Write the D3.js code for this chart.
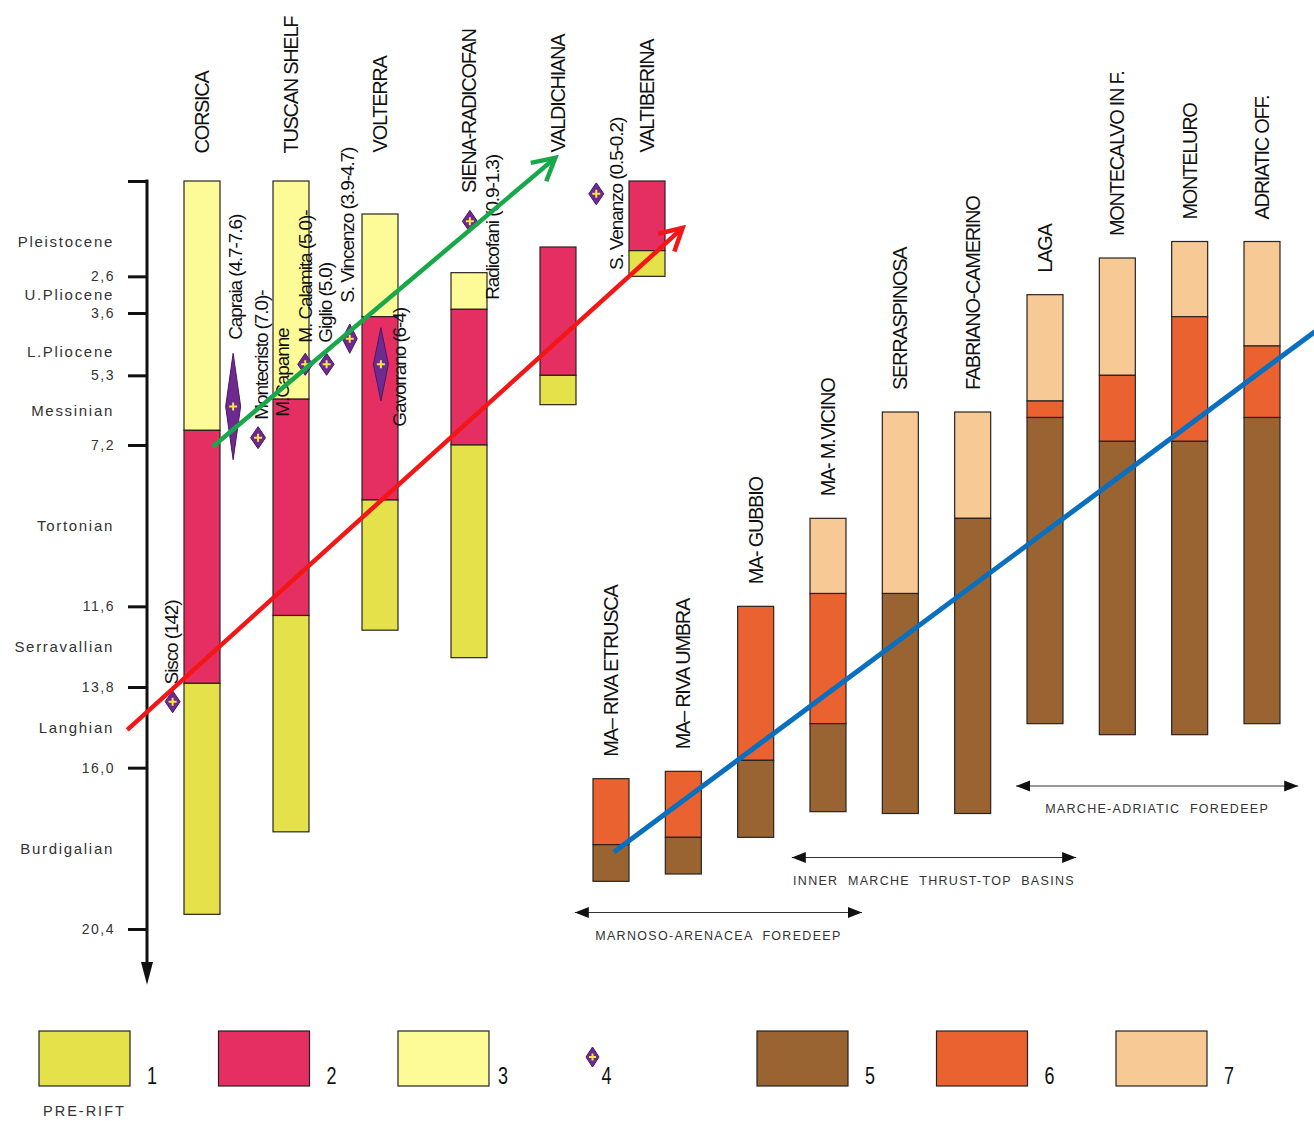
<!DOCTYPE html>
<html><head><meta charset="utf-8">
<script src="https://cdn.jsdelivr.net/npm/d3@7"></script>
<style>
body{margin:0;background:#fff;}
svg{display:block;font-family:"Liberation Sans",Arial,sans-serif;}
</style></head><body>
<svg id="chart" width="1314" height="1121"></svg>
<script>
// ---------- DATA ----------
const stageNames = ["Pleistocene","U.Pliocene","L.Pliocene","Messinian","Tortonian","Serravallian","Langhian","Burdigalian"];
const stageBounds = [0, 2.6, 3.6, 5.3, 7.2, 11.6, 13.8, 16.0, 20.4];
const tickAges = [0, 2.6, 3.6, 5.3, 7.2, 11.6, 13.8, 16.0, 20.4];

const leftColumns = ["CORSICA","TUSCAN SHELF","VOLTERRA","SIENA-RADICOFAN","VALDICHIANA","VALTIBERINA"];
// [unit, top age (Ma), base age (Ma)]
const corsica     = [[3,0,6.8],[2,6.8,13.7],[1,13.7,20.0]];
const tuscanShelf = [[3,0,5.95],[2,5.95,11.85],[1,11.85,17.75]];
const volterra    = [[3,0.9,3.7],[2,3.7,8.7],[1,8.7,12.25]];
const sienaRadic  = [[3,2.5,3.5],[2,3.5,7.2],[1,7.2,13.0]];
const valdichiana = [[2,1.8,5.3],[1,5.3,6.1]];
const valtiberina = [[2,0,1.9],[1,1.9,2.6]];
const leftBars = [corsica, tuscanShelf, volterra, sienaRadic, valdichiana, valtiberina];

const rightColumns = ["MA– RIVA ETRUSCA","MA– RIVA UMBRA","MA- GUBBIO","MA- M.VICINO","SERRASPINOSA","FABRIANO-CAMERINO","LAGA","MONTECALVO IN F.","MONTELURO","ADRIATIC OFF."];
const rivaEtrusca = [[6,16.3,18.1],[5,18.1,19.1]];
const rivaUmbra   = [[6,16.1,17.9],[5,17.9,18.9]];
const gubbio      = [[6,11.6,15.8],[5,15.8,17.9]];
const mVicino     = [[7,9.2,11.25],[6,11.25,14.8],[5,14.8,17.2]];
const serraspinosa= [[7,6.3,11.25],[5,11.25,17.25]];
const fabriano    = [[7,6.3,9.2],[5,9.2,17.25]];
const laga        = [[7,3.1,6.0],[6,6.0,6.45],[5,6.45,14.8]];
const montecalvo  = [[7,2.1,5.3],[6,5.3,7.1],[5,7.1,15.1]];
const monteluro   = [[7,1.65,3.7],[6,3.7,7.1],[5,7.1,15.1]];
const adriatic    = [[7,1.65,4.5],[6,4.5,6.45],[5,6.45,14.8]];
const rightBars = [rivaEtrusca, rivaUmbra, gubbio, mVicino, serraspinosa, fabriano, laga, montecalvo, monteluro, adriatic];

const volcanicNames = ["Sisco","Capraia","Montecristo","M. Calamita","Giglio","S. Vincenzo","Gavorrano","Radicofani","S. Venanzo"];
const volcanicMin = [14.2, 4.7, 7.0, 5.0, 5.0, 3.9, 4.0, 0.9, 0.2];
const volcanicMax = [14.2, 7.6, 7.0, 5.0, 5.0, 4.7, 6.0, 1.3, 0.5];
const volcanicLabels = ["Sisco (142)","Capraia (4.7-7.6)","Montecristo (7.0)-","M.Capanne","M. Calamita (5.0)-","Giglio (5.0)","S. Vincenzo (3.9-4.7)","Gavorrano (6-4)","Radicofani (0.9-1.3)","S. Venanzo (0.5-0.2)"];

const legendLabels = ["1","2","3","4","5","6","7"];
const groupNames = ["MARCHE-ADRIATIC  FOREDEEP","INNER  MARCHE  THRUST-TOP  BASINS","MARNOSO-ARENACEA  FOREDEEP"];

// ---------- LAYOUT / STYLE ----------
const unitColor = {1:"#e5e14b",2:"#e52f63",3:"#fdfb98",5:"#9a6432",6:"#eb6231",7:"#f6c995"};
const stageLabelShift = [0.35,0,0.2,0,0,0,0,0];   // Ma shift of stage label from interval midpoint
const volcanicCol = [-0.33, 0.35, 0.63, 1.16, 1.40, 1.66, 2.01, 3.01, 4.43];       // column units (left group)
const volcanicLabelPos = [[-0.34,13.73],[0.38,4.33],[0.67,6.51],[0.9,6.43],[1.16,4.41],[1.39,4.41],[1.64,3.32],[2.22,6.70],[3.26,3.24],[4.66,2.43]];
const leftLabelBase = [-0.75,-0.75,-0.78,0.33,-0.78,-0.78];
const groupSpans = [[5.6,9.5,16.5],[2.5,6.43,18.45],[-0.5,3.47,19.95]]; // right-group column units, age

const svg = d3.select("#chart");
const y = d3.scaleLinear().domain([0, 20.4]).range([181, 929]);
const xL = d3.scaleLinear().domain([0, 5]).range([202, 647]);
const xR = d3.scaleLinear().domain([0, 9]).range([611, 1262]);
const barW = 36;
const FONT = '"Liberation Sans", Arial, sans-serif';

const defs = svg.append("defs");
function chevron(id, color){
  defs.append("marker").attr("id", id).attr("markerUnits","userSpaceOnUse")
    .attr("viewBox","-26 -16 30 32").attr("refX",0).attr("refY",0)
    .attr("markerWidth",30).attr("markerHeight",32).attr("orient","auto")
    .append("path").attr("d","M-22,-12 L0,0 L-22,12").attr("fill","none")
    .attr("stroke",color).attr("stroke-width",4.5).attr("stroke-linejoin","miter");
}
chevron("headG","#18a84a");
chevron("headR","#f31616");
defs.append("marker").attr("id","tri").attr("markerUnits","userSpaceOnUse")
  .attr("viewBox","-14 -6 15 12").attr("refX",0).attr("refY",0)
  .attr("markerWidth",15).attr("markerHeight",12).attr("orient","auto-start-reverse")
  .append("path").attr("d","M-14,-5.5 L0,0 L-14,5.5Z").attr("fill","#111");

// ---------- AXIS ----------
const axis = d3.axisLeft(y).tickValues(tickAges).tickSize(19).tickPadding(13)
  .tickFormat(d => d === 0 ? "" : d3.format(".1f")(d).replace(".", ","));
const ag = svg.append("g").attr("transform","translate(147,0)").call(axis);
ag.select(".domain").remove();
ag.selectAll(".tick line").attr("stroke","#111").attr("stroke-width",3);
ag.selectAll(".tick text").attr("font-size",14).attr("letter-spacing",1.5)
  .attr("fill","#333").attr("font-family",FONT);
svg.append("line").attr("x1",147).attr("x2",147).attr("y1",y(0)-1.5).attr("y2",y(21.3))
  .attr("stroke","#111").attr("stroke-width",3);
svg.append("path").attr("d",`M141,${y(21.3)} L153,${y(21.3)} L147,${y(21.92)}Z`).attr("fill","#111");

svg.append("g").selectAll("text").data(stageNames).join("text")
  .attr("x",114).attr("y",(d,i)=> y((stageBounds[i]+stageBounds[i+1])/2 + stageLabelShift[i]))
  .attr("text-anchor","end").attr("dominant-baseline","central")
  .attr("font-size",15).attr("letter-spacing",1.7).attr("fill","#333").text(d=>d);

// ---------- BARS ----------
function drawGroup(cols, bars, x){
  const segs = [];
  bars.forEach((b,i)=> b.forEach(([u,a,c])=> segs.push({i,u,a,c})));
  svg.append("g").selectAll("rect").data(segs).join("rect")
    .attr("x", d=> x(d.i)-barW/2).attr("width",barW)
    .attr("y", d=> y(d.a)).attr("height", d=> y(d.c)-y(d.a))
    .attr("fill", d=> unitColor[d.u]).attr("stroke","#2a2320").attr("stroke-width",1.2);
}
drawGroup(leftColumns, leftBars, xL);
drawGroup(rightColumns, rightBars, xR);

function rotLabel(g, data, fx, fy, size, ls){
  g.selectAll("text").data(data).join("text")
    .attr("transform",(d,i)=>`translate(${fx(d,i)},${fy(d,i)}) rotate(-90)`)
    .attr("text-anchor","start").attr("dominant-baseline","central")
    .attr("font-size",size).attr("letter-spacing",ls).attr("fill","#111").text(d=>d);
}
rotLabel(svg.append("g"), leftColumns, (d,i)=>xL(i), (d,i)=>y(leftLabelBase[i]), 20, -1.3);
rotLabel(svg.append("g"), rightColumns, (d,i)=>xR(i), (d,i)=>y(rightBars[i][0][1]) - 22, 20, -1.3);

// ---------- VOLCANICS ----------
function diamond(cx, y0, y1, hw){
  const cy = (y0+y1)/2, hh = Math.max(11, (y1-y0)/2);
  return `M${cx},${cy-hh} L${cx+hw},${cy} L${cx},${cy+hh} L${cx-hw},${cy}Z`;
}
const vg = svg.append("g");
volcanicNames.forEach((n,i)=>{
  const cx = xL(volcanicCol[i]), y0 = y(volcanicMin[i]), y1 = y(volcanicMax[i]);
  const cy = (y0+y1)/2;
  vg.append("path").attr("d", diamond(cx,y0,y1,7.5)).attr("fill","#6e2a8e").attr("stroke","#4b1766").attr("stroke-width",1);
  vg.append("path").attr("d",`M${cx-4},${cy} H${cx+4} M${cx},${cy-4} V${cy+4}`)
    .attr("stroke","#f6e64a").attr("stroke-width",2);
});
rotLabel(svg.append("g"), volcanicLabels, (d,i)=>xL(volcanicLabelPos[i][0]), (d,i)=>y(volcanicLabelPos[i][1]), 19, -1.1);

// ---------- TREND ARROWS ----------
svg.append("line").attr("x1",xL(0.12)).attr("y1",y(7.25)).attr("x2",xL(3.97)).attr("y2",y(-0.63))
  .attr("stroke","#18a84a").attr("stroke-width",4.5).attr("marker-end","url(#headG)");
svg.append("line").attr("x1",xL(-0.84)).attr("y1",y(14.97)).attr("x2",xL(5.4)).attr("y2",y(1.28))
  .attr("stroke","#f31616").attr("stroke-width",4.5).attr("marker-end","url(#headR)");
svg.append("line").attr("x1",xR(0.04)).attr("y1",y(18.3)).attr("x2",xR(9.75)).attr("y2",y(4.08))
  .attr("stroke","#0a6fbe").attr("stroke-width",5);

// ---------- GROUP SPANS ----------
const sg = svg.append("g");
groupNames.forEach((n,i)=>{
  const [a,b,age] = groupSpans[i];
  sg.append("line").attr("x1",xR(a)).attr("x2",xR(b)).attr("y1",y(age)).attr("y2",y(age))
    .attr("stroke","#333").attr("stroke-width",1.2)
    .attr("marker-start","url(#tri)").attr("marker-end","url(#tri)");
  sg.append("text").attr("x",(xR(a)+xR(b))/2).attr("y",y(age)+23)
    .attr("text-anchor","middle").attr("dominant-baseline","central")
    .attr("font-size",12.5).attr("letter-spacing",1.3).attr("fill","#333")
    .attr("xml:space","preserve").style("white-space","pre").text(n);
});

// ---------- LEGEND ----------
const lg = svg.append("g");
const legendUnits = [1,2,3,4,5,6,7];
legendUnits.forEach((u,i)=>{
  const x0 = 39 + i*179.5;
  if (u === 4){
    const cx = x0+15, cy = 1057;
    lg.append("path").attr("d",`M${cx},${cy-10} L${cx+6.5},${cy} L${cx},${cy+10} L${cx-6.5},${cy}Z`)
      .attr("fill","#6e2a8e").attr("stroke","#4b1766");
    lg.append("path").attr("d",`M${cx-3.5},${cy} H${cx+3.5} M${cx},${cy-3.5} V${cy+3.5}`)
      .attr("stroke","#f6e64a").attr("stroke-width",2);
    lg.append("text").attr("x",x0+24).attr("y",1084).attr("font-size",24)
      .attr("textLength",10).attr("lengthAdjust","spacingAndGlyphs").attr("fill","#111").text(legendLabels[i]);
  } else {
    lg.append("rect").attr("x",x0).attr("y",1031).attr("width",91).attr("height",55)
      .attr("fill",unitColor[u]).attr("stroke","#222").attr("stroke-width",1.2);
    lg.append("text").attr("x",x0 + (u===3 ? 100 : 108)).attr("y",1084).attr("font-size",24)
      .attr("textLength",10).attr("lengthAdjust","spacingAndGlyphs").attr("fill","#111").text(legendLabels[i]);
  }
});
lg.append("text").attr("x",43).attr("y",1111).attr("dominant-baseline","central")
  .attr("font-size",14.5).attr("letter-spacing",2).attr("fill","#333").text("PRE-RIFT");
</script></body></html>
